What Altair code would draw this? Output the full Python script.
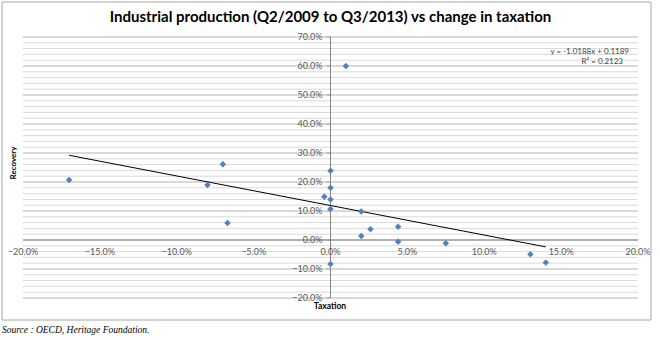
import altair as alt
import pandas as pd

# ---- data ----
taxation = [0.010, -0.070, 0.000, -0.170, -0.080, -0.067, -0.004, 0.000, 0.000, 0.000,
            0.000, 0.020, 0.020, 0.026, 0.044, 0.044, 0.075, 0.130, 0.140]
recovery = [0.600, 0.261, 0.239, 0.207, 0.190, 0.059, 0.149, 0.180, 0.140, 0.107,
            -0.083, 0.098, 0.014, 0.037, 0.046, -0.006, -0.011, -0.049, -0.078]

trend_slope = -1.0188
trend_intercept = 0.1189
equation_lines = ["y = -1.0188x + 0.1189", "R² = 0.2123"]

x_ticks = [-0.20, -0.15, -0.10, -0.05, 0.0, 0.05, 0.10, 0.15, 0.20]
y_ticks = [-0.2, -0.1, 0.0, 0.1, 0.2, 0.3, 0.4, 0.5, 0.6, 0.7]
minor_grid = [round(-0.20 + 0.02 * i, 2) for i in range(46)]

title_text = "Industrial production (Q2/2009 to Q3/2013) vs change in taxation"
x_title = "Taxation"
y_title = "Recovery"
source_text = "Source : OECD, Heritage Foundation."

# ---- layout ----
W, H = 615, 261
x_dom = [-0.2, 0.2]
y_dom = [-0.2, 0.7]

xs = alt.Scale(domain=x_dom, nice=False, zero=False)
ys = alt.Scale(domain=y_dom, nice=False, zero=False)

pts = pd.DataFrame({"tax": taxation, "rec": recovery})
tx = [min(taxation), max(taxation)]
trend = pd.DataFrame({"tax": tx, "rec": [trend_slope * t + trend_intercept for t in tx]})
minor_df = pd.DataFrame({"v": [v for v in minor_grid if abs(v * 10 - round(v * 10)) > 1e-6]})
major_df = pd.DataFrame({"v": y_ticks})
xt_df = pd.DataFrame({"v": x_ticks})
one = pd.DataFrame({"a": [0]})

LABEL_FONT = "Lato"
LABEL_COLOR = "#595959"
AXIS_COLOR = "#868686"

border = alt.Chart(one).mark_rect(fillOpacity=0, stroke="#a6a6a6", strokeWidth=1).encode(
    x=alt.value(-21), x2=alt.value(628), y=alt.value(-35), y2=alt.value(283)
)

minor = alt.Chart(minor_df).mark_rule(color="#d9d9d9", strokeWidth=1).encode(
    y=alt.Y("v:Q", scale=ys, axis=None)
)
major = alt.Chart(major_df).mark_rule(color="#b3b3b3", strokeWidth=1).encode(
    y=alt.Y("v:Q", scale=ys, axis=None)
)

# axes crossing at zero, drawn through the scales
y_axis_line = alt.Chart(one).mark_rule(color=AXIS_COLOR, strokeWidth=1).encode(
    x=alt.datum(0, scale=xs, axis=None)
)
x_axis_line = alt.Chart(one).mark_rule(color=AXIS_COLOR, strokeWidth=1).encode(
    y=alt.datum(0, scale=ys, axis=None)
)
y_tick_marks = alt.Chart(major_df).mark_tick(color=AXIS_COLOR, thickness=1, size=4, orient="horizontal",
                                             xOffset=-2).encode(
    y=alt.Y("v:Q", scale=ys, axis=None), x=alt.datum(0, scale=xs, axis=None)
)
y_labels = alt.Chart(major_df).mark_text(font=LABEL_FONT, fontSize=9, color=LABEL_COLOR,
                                         align="right", baseline="middle", dx=-8).encode(
    y=alt.Y("v:Q", scale=ys, axis=None), x=alt.datum(0, scale=xs, axis=None),
    text=alt.Text("v:Q", format=".1%")
)
x_labels = alt.Chart(xt_df).mark_text(font=LABEL_FONT, fontSize=9, color=LABEL_COLOR,
                                      align="center", baseline="middle", dy=12).encode(
    x=alt.X("v:Q", scale=xs, axis=None), y=alt.datum(0, scale=ys, axis=None),
    text=alt.Text("v:Q", format=".1%")
)

trend_line = alt.Chart(trend).mark_line(color="#000000", strokeWidth=1).encode(
    x=alt.X("tax:Q", scale=xs, axis=None),
    y=alt.Y("rec:Q", scale=ys, axis=None),
)

points = alt.Chart(pts).mark_point(shape="diamond", filled=True, size=42, color="#4F81BD", opacity=1).encode(
    x=alt.X("tax:Q", scale=xs, axis=None),
    y=alt.Y("rec:Q", scale=ys, axis=None),
)

eq1 = alt.Chart(one).mark_text(text=equation_lines[0], font=LABEL_FONT, fontSize=8, color="#404040",
                               align="right", baseline="middle").encode(
    x=alt.value(606), y=alt.value(15))
eq2 = alt.Chart(one).mark_text(text=equation_lines[1], font=LABEL_FONT, fontSize=8, color="#404040",
                               align="right", baseline="middle").encode(
    x=alt.value(600), y=alt.value(25))

ytitle = alt.Chart(one).mark_text(text=y_title, font=LABEL_FONT, fontSize=8, fontWeight="bold",
                                  angle=270, color="#000000").encode(
    x=alt.value(-9), y=alt.value(126))
xtitle = alt.Chart(one).mark_text(text=x_title, font=LABEL_FONT, fontSize=8.5, fontWeight="bold",
                                  color="#000000").encode(
    x=alt.value(307), y=alt.value(269))
src = alt.Chart(one).mark_text(text=source_text, font="Liberation Serif", fontSize=9.5,
                               fontStyle="italic", color="#000000", align="left").encode(
    x=alt.value(-21), y=alt.value(293))
ttl = alt.Chart(one).mark_text(text=title_text, font=LABEL_FONT, fontSize=15, fontWeight="bold",
                               color="#000000", align="center", baseline="middle").encode(
    x=alt.value(307.5), y=alt.value(-20))

chart = alt.layer(border, minor, major, x_axis_line, y_axis_line, y_tick_marks, y_labels, x_labels,
                  trend_line, points, eq1, eq2, ytitle, xtitle, src, ttl).properties(
    width=W, height=H,
    autosize=alt.AutoSizeParams(type="none"),
    padding={"left": 23, "top": 37, "right": 22, "bottom": 42},
).configure_view(stroke=None)

chart.save("out.html", embed_options={"renderer": "svg", "actions": False})
